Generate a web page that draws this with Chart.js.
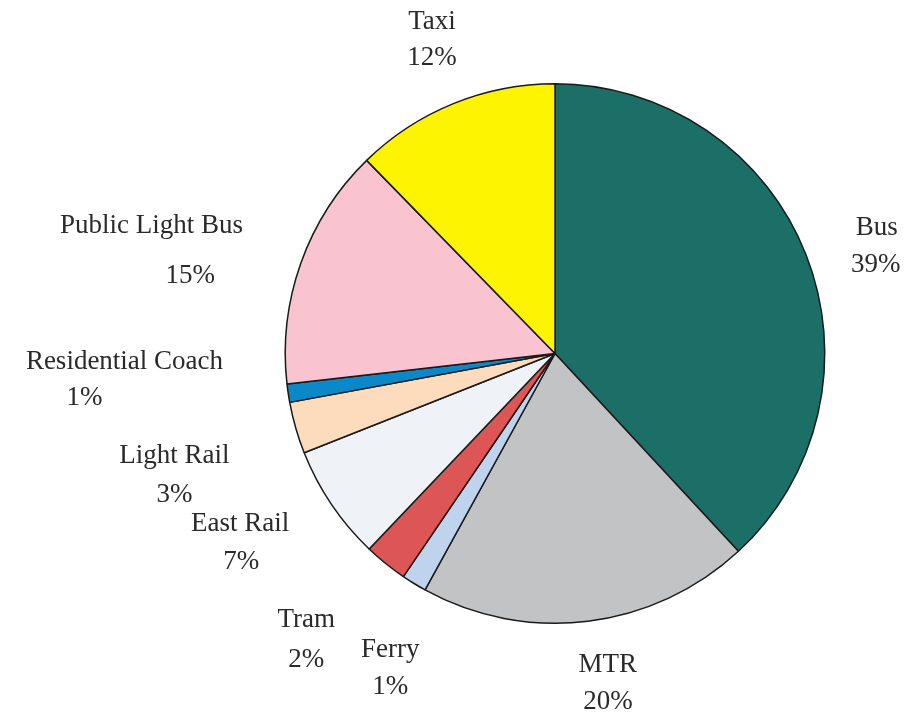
<!DOCTYPE html>
<html>
<head>
<meta charset="utf-8">
<script src="https://cdn.jsdelivr.net/npm/chart.js@4"></script>
<style>
  html, body { margin: 0; padding: 0; background: #ffffff; }
  #wrap { width: 922px; height: 719px; position: relative; }
</style>
</head>
<body>
<div id="wrap"><canvas id="c"></canvas></div>
<script>
// ---- data ----
const categories = ["Bus", "MTR", "Ferry", "Tram", "East Rail", "Light Rail", "Residential Coach", "Public Light Bus", "Taxi"];
const shares = [38.1, 19.9, 1.5, 2.6, 6.9, 3.1, 1.1, 14.5, 12.3];
const shareLabels = ["39%", "20%", "1%", "2%", "7%", "3%", "1%", "15%", "12%"];
const sliceColors = ["#1b6f66", "#c2c3c5", "#bfd3ee", "#dc5656", "#eff3f8", "#fcdcbc", "#0a88c8", "#f9c4cf", "#fcf400"];

// label line positions, relative to pie centre in units of the radius: [[nameX,nameY],[pctX,pctY]]
const labelSpots = [
  [[1.193, -0.467], [1.189, -0.330]],
  [[0.196, 1.156], [0.196, 1.293]],
  [[-0.611, 1.100], [-0.611, 1.237]],
  [[-0.922, 0.989], [-0.922, 1.137]],
  [[-1.167, 0.630], [-1.163, 0.774]],
  [[-1.411, 0.381], [-1.411, 0.526]],
  [[-1.596, 0.033], [-1.744, 0.163]],
  [[-1.496, -0.474], [-1.352, -0.289]],
  [[-0.456, -1.230], [-0.456, -1.096]]
];

const outsideLabels = {
  id: 'outsideLabels',
  afterDraw(chart) {
    const meta = chart.getDatasetMeta(0);
    const arc0 = meta.data[0];
    if (!arc0) return;
    const cx = arc0.x, cy = arc0.y, r = arc0.outerRadius;
    const ctx = chart.ctx;
    ctx.save();
    ctx.font = '27px "Liberation Serif", "Times New Roman", serif';
    ctx.fillStyle = '#2a2a2a';
    ctx.textAlign = 'center';
    ctx.textBaseline = 'middle';
    categories.forEach((name, i) => {
      const s = labelSpots[i];
      ctx.fillText(name, cx + s[0][0] * r, cy + s[0][1] * r);
      ctx.fillText(shareLabels[i], cx + s[1][0] * r, cy + s[1][1] * r);
    });
    ctx.restore();
  }
};

new Chart(document.getElementById('c'), {
  type: 'pie',
  data: {
    labels: categories,
    datasets: [{
      data: shares,
      backgroundColor: sliceColors,
      borderColor: '#1a1a1a',
      borderWidth: 1.5
    }]
  },
  options: {
    responsive: true,
    maintainAspectRatio: false,
    animation: false,
    layout: { padding: { left: 188, right: 0, top: 83, bottom: 95 } },
    plugins: {
      legend: { display: false },
      tooltip: { enabled: false }
    }
  },
  plugins: [outsideLabels]
});
</script>
</body>
</html>
